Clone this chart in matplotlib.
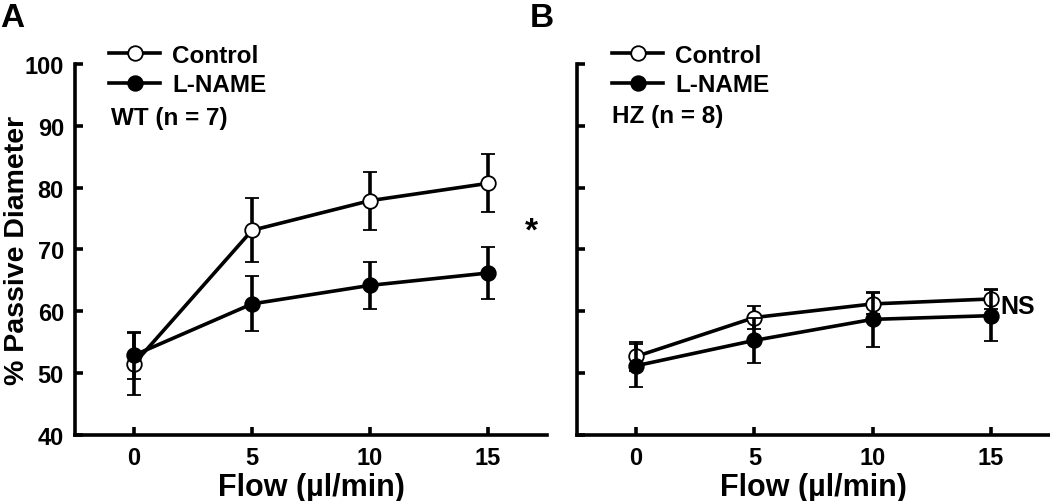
import numpy as np
import matplotlib.pyplot as plt
from matplotlib.lines import Line2D

plt.rcParams['font.family'] = ['Liberation Sans', 'DejaVu Sans']
plt.rcParams['font.weight'] = 'bold'

flow = [0, 5, 10, 15]

# Panel A: WT (n = 7)
wt_ctrl = [51.5, 73.1, 77.9, 80.7]
wt_ctrl_err = [5.0, 5.2, 4.7, 4.7]
wt_lname = [52.9, 61.2, 64.2, 66.2]
wt_lname_err = [3.8, 4.45, 3.8, 4.15]

# Panel B: HZ (n = 8)
hz_ctrl = [52.7, 59.0, 61.2, 62.0]
hz_ctrl_err = [2.3, 1.9, 1.7, 1.6]
hz_lname = [51.2, 55.3, 58.7, 59.3]
hz_lname_err = [3.5, 3.6, 4.5, 4.1]

yticks = [40, 50, 60, 70, 80, 90, 100]

fig = plt.figure(figsize=(10.5, 5.02), dpi=100)
ax_a = fig.add_axes([75 / 1050, 1 - 436 / 502, 472 / 1050, 371 / 502])
ax_b = fig.add_axes([577 / 1050, 1 - 436 / 502, 473 / 1050, 371 / 502])

lw = 2.6
ms = 10.5
style = dict(color='k', lw=lw, ms=ms, capsize=5, capthick=lw, elinewidth=lw,
             markeredgewidth=1.3, clip_on=False)

handles = [Line2D([], [], color='k', lw=lw, marker='o', ms=ms, mfc='white', mec='k', mew=1.3),
           Line2D([], [], color='k', lw=lw, marker='o', ms=ms, mfc='k', mec='k', mew=1.3)]

for ax, ctrl, ctrl_err, lname, lname_err in [
        (ax_a, wt_ctrl, wt_ctrl_err, wt_lname, wt_lname_err),
        (ax_b, hz_ctrl, hz_ctrl_err, hz_lname, hz_lname_err)]:
    ax.errorbar(flow, ctrl, yerr=ctrl_err, marker='o', mfc='white', mec='k',
                zorder=3, **style)
    ax.errorbar(flow, lname, yerr=lname_err, marker='o', mfc='k', mec='k',
                zorder=4, **style)
    ax.set_xlim(-2.5, 17.5)
    ax.set_ylim(40, 100)
    ax.set_xticks(flow)
    ax.set_yticks(yticks)
    for s in ['top', 'right']:
        ax.spines[s].set_visible(False)
    for s in ['left', 'bottom']:
        ax.spines[s].set_linewidth(2.6)
    ax.tick_params(direction='in', length=6, width=2.6, labelsize=17, pad=8)
    ax.set_xlabel('Flow (\u00b5l/min)', fontsize=22, fontweight='bold', labelpad=2)
    ax.legend(handles, ['Control', 'L-NAME'], loc='center left', frameon=False,
              fontsize=17.5, handlelength=2.1, handletextpad=0.5, labelspacing=0.25,
              borderpad=0, borderaxespad=0,
              bbox_to_anchor=((109 if ax is ax_a else 612) / 1050, 1 - 71 / 502),
              bbox_transform=fig.transFigure)

ax_a.set_ylabel('% Passive Diameter', fontsize=20.5, fontweight='bold')
ax_a.yaxis.set_label_coords(-0.095, 0.5)
ax_b.set_yticklabels([])

fig.text(111 / 1050, 1 - 118 / 502, 'WT (n = 7)', fontsize=17.5, fontweight='bold',
         va='center', ha='left')
fig.text(612 / 1050, 1 - 117 / 502, 'HZ (n = 8)', fontsize=17.5, fontweight='bold',
         va='center', ha='left')

ax_a.text(16.85, 73.0, '*', fontsize=24, fontweight='bold', ha='center', va='center')
ax_b.text(15.4, 60.8, 'NS', fontsize=18, fontweight='bold', ha='left', va='center')

fig.text(0.0, 1 - 27 / 502, 'A', fontsize=24, fontweight='bold', va='baseline', ha='left')
fig.text(530 / 1050, 1 - 27 / 502, 'B', fontsize=24, fontweight='bold', va='baseline', ha='left')

fig.savefig('out.png', dpi=100)
